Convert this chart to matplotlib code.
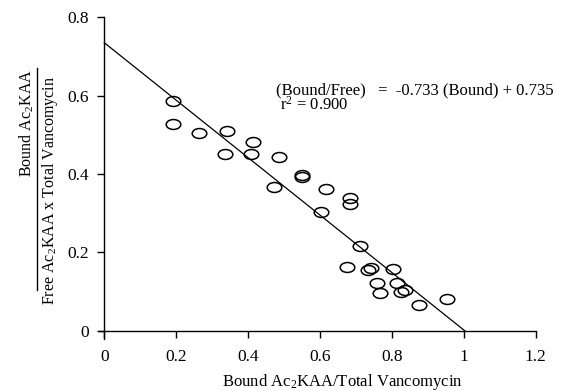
#! /usr/bin/env python3
# Scatchard-style plot: bound/free vs bound fraction, with linear fit

import matplotlib.pyplot as plt
import matplotlib.path as mpath
import numpy as np

plt.rcParams['font.family'] = ['Liberation Serif', 'DejaVu Serif']
plt.rcParams['mathtext.fontset'] = 'custom'
plt.rcParams['mathtext.rm'] = 'Liberation Serif'
plt.rcParams['mathtext.it'] = 'Liberation Serif:italic'

# data
bound = [0.192, 0.192, 0.263, 0.341, 0.337, 0.414, 0.407, 0.486, 0.471,
         0.549, 0.549, 0.616, 0.604, 0.684, 0.684, 0.711, 0.676, 0.734,
         0.743, 0.804, 0.759, 0.767, 0.815, 0.824, 0.837, 0.874, 0.953]
ratio = [0.587, 0.528, 0.504, 0.510, 0.452, 0.481, 0.452, 0.444, 0.366,
         0.397, 0.392, 0.362, 0.304, 0.339, 0.324, 0.217, 0.162, 0.154,
         0.161, 0.157, 0.122, 0.096, 0.122, 0.098, 0.103, 0.066, 0.080]
slope = -0.733
intercept = 0.735

xticks = [0, 0.2, 0.4, 0.6, 0.8, 1, 1.2]
xticklabels = ['0', '0.2', '0.4', '0.6', '0.8', '1', '1.2']
yticks = [0, 0.2, 0.4, 0.6, 0.8]
yticklabels = ['0', '0.2', '0.4', '0.6', '0.8']

# open ellipse marker, wider than tall
circ = mpath.Path.unit_circle()
ellipse = mpath.Path(circ.vertices * np.array([1.0, 0.68]), circ.codes)

fig = plt.figure(figsize=(5.63, 3.91), dpi=100)
ax = fig.add_axes([0.1757, 0.1338, 0.776, 0.822])

xfit = np.array([0, -intercept / slope])
ax.plot(xfit, slope * xfit + intercept, color='black', lw=0.9)
ax.plot(bound, ratio, linestyle='none', marker=ellipse, markersize=10.5,
        markerfacecolor='none', markeredgecolor='black', markeredgewidth=1.1)

ax.set_xlim(-0.015, 1.2)
ax.set_ylim(-0.02, 0.8)
ax.spines['left'].set_position(('data', 0))
ax.spines['bottom'].set_position(('data', 0))
ax.spines['top'].set_visible(False)
ax.spines['right'].set_visible(False)
for s in ('left', 'bottom'):
    ax.spines[s].set_linewidth(1.0)
ax.set_xticks(xticks)
ax.set_xticklabels(xticklabels)
ax.set_yticks(yticks)
ax.set_yticklabels(yticklabels)
ax.tick_params(direction='out', length=5, width=1, labelsize=12.5)
ax.tick_params(axis='y', pad=6)
ax.tick_params(axis='x', pad=8)

# fit equation, two tight lines in one text
ax.text(0.477, 0.593,
        '(Bound/Free)   =  -0.733 (Bound) + 0.735\n r$^2$ = 0.900',
        fontsize=12, ha='left', va='center', linespacing=0.8)

# x label
fig.text(342 / 563, 1 - 382 / 391, 'Bound Ac$_2$KAA/Total Vancomycin',
         fontsize=12, ha='center', va='center')

# y label drawn as a fraction
fig.text(27 / 563, 1 - 123 / 391, 'Bound Ac$_2$KAA', rotation=90,
         fontsize=11.5, ha='center', va='center')
fig.text(50 / 563, 1 - 190 / 391, 'Free Ac$_2$KAA x Total Vancomycin',
         rotation=90, fontsize=11.5, ha='center', va='center')
fig.add_artist(plt.Line2D([37 / 563, 37 / 563], [1 - 290 / 391, 1 - 68 / 391],
                          color='black', lw=1.0, transform=fig.transFigure))

fig.savefig('out.png', dpi=100)
